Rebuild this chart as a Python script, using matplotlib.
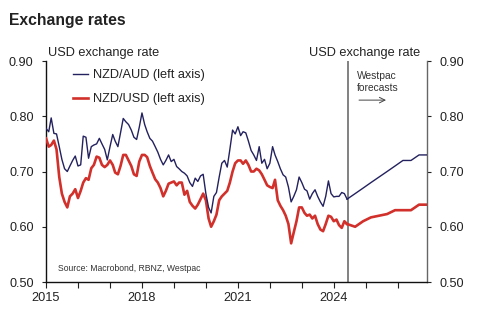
import numpy as np
import pandas as pd
import matplotlib
matplotlib.use("Agg")
import matplotlib.pyplot as plt

plt.rcParams['font.family'] = ['Liberation Sans', 'DejaVu Sans']

# monthly history, Jan 2015 .. Jun 2024
nzd_aud = [0.778, 0.772, 0.797, 0.769, 0.768, 0.745, 0.722, 0.705, 0.700, 0.710,
           0.720, 0.728, 0.710, 0.712, 0.764, 0.762, 0.724, 0.745, 0.748, 0.750,
           0.760, 0.750, 0.740, 0.721, 0.745, 0.767, 0.755, 0.745, 0.770, 0.796,
           0.790, 0.785, 0.775, 0.762, 0.758, 0.780, 0.806, 0.785, 0.772, 0.760,
           0.755, 0.745, 0.735, 0.722, 0.712, 0.720, 0.730, 0.718, 0.722, 0.709,
           0.705, 0.700, 0.697, 0.692, 0.680, 0.673, 0.688, 0.682, 0.692, 0.695,
           0.660, 0.635, 0.625, 0.655, 0.662, 0.690, 0.715, 0.720, 0.708, 0.740,
           0.775, 0.768, 0.781, 0.765, 0.772, 0.770, 0.755, 0.738, 0.730, 0.720,
           0.745, 0.715, 0.722, 0.705, 0.715, 0.745, 0.730, 0.718, 0.705, 0.694,
           0.690, 0.672, 0.645, 0.655, 0.667, 0.690, 0.680, 0.668, 0.665, 0.650,
           0.660, 0.667, 0.655, 0.645, 0.637, 0.655, 0.683, 0.660, 0.654, 0.655,
           0.655, 0.662, 0.660, 0.650]
nzd_usd = [0.760, 0.745, 0.748, 0.756, 0.740, 0.690, 0.660, 0.645, 0.635, 0.655,
           0.660, 0.668, 0.652, 0.665, 0.680, 0.688, 0.685, 0.706, 0.712, 0.727,
           0.725, 0.712, 0.708, 0.712, 0.720, 0.712, 0.698, 0.695, 0.710, 0.730,
           0.730, 0.720, 0.710, 0.695, 0.692, 0.718, 0.730, 0.730, 0.726, 0.710,
           0.698, 0.686, 0.680, 0.670, 0.655, 0.665, 0.678, 0.680, 0.682, 0.675,
           0.680, 0.680, 0.658, 0.665, 0.645, 0.638, 0.633, 0.640, 0.650, 0.660,
           0.648, 0.615, 0.600, 0.610, 0.622, 0.648, 0.655, 0.660, 0.665, 0.680,
           0.700, 0.715, 0.720, 0.720, 0.714, 0.720, 0.712, 0.700, 0.700, 0.705,
           0.702, 0.695, 0.685, 0.675, 0.672, 0.670, 0.685, 0.648, 0.638, 0.630,
           0.620, 0.605, 0.570, 0.590, 0.610, 0.635, 0.635, 0.625, 0.620, 0.622,
           0.615, 0.620, 0.605, 0.595, 0.592, 0.605, 0.620, 0.618, 0.610, 0.613,
           0.603, 0.598, 0.610, 0.605]

# quarterly Westpac forecasts, Jun 2024 .. Dec 2026
fc_aud = [0.65, 0.66, 0.67, 0.68, 0.69, 0.70, 0.71, 0.72, 0.72, 0.73, 0.73]
fc_usd = [0.605, 0.600, 0.610, 0.617, 0.620, 0.623, 0.630, 0.630, 0.630, 0.640, 0.640]

year_ticks = list(range(2015, 2027))
year_labels = ['2015', '', '', '2018', '', '', '2021', '', '', '2024', '', '']
y_ticks = [0.50, 0.60, 0.70, 0.80, 0.90]

navy = '#23215e'
red = '#d1302b'

hist_dates = pd.date_range('2015-01-01', periods=len(nzd_aud), freq='MS')
fc_dates = pd.date_range('2024-06-01', periods=len(fc_aud), freq='3MS')

fig = plt.figure(figsize=(4.86, 3.24), dpi=100)
ax = fig.add_axes([0.0947, 0.1296, 0.7839, 0.6821])

ax.plot(hist_dates, nzd_usd, color=red, lw=1.9, label='NZD/USD (left axis)', zorder=3)
ax.plot(hist_dates, nzd_aud, color=navy, lw=1.0, label='NZD/AUD (left axis)', zorder=4)
ax.plot(fc_dates, fc_usd, color=red, lw=1.9, zorder=3)
ax.plot(fc_dates, fc_aud, color=navy, lw=1.0, zorder=4)

ax.axvline(pd.Timestamp('2024-06-15'), color='#777777', lw=1.3, zorder=2)

ax.set_xlim(pd.Timestamp('2015-01-01'), pd.Timestamp('2026-12-01'))
ax.set_ylim(0.50, 0.90)
ax.set_xticks([pd.Timestamp(f'{y}-01-01') for y in year_ticks])
ax.set_xticklabels(year_labels)
ax.set_yticks(y_ticks)
ax.set_yticklabels([f'{v:.2f}' for v in y_ticks])

ax.spines['top'].set_visible(False)
ax.spines['left'].set_color('#111111')
ax.spines['bottom'].set_color('#111111')
ax.spines['right'].set_color('#666666')
for s in ax.spines.values():
    s.set_linewidth(1.0)

ax.tick_params(axis='y', left=True, right=True, labelleft=True, labelright=True,
               direction='out', length=3, width=0.8, pad=6, labelsize=9.1,
               colors='#222222')
ax.tick_params(axis='x', direction='out', length=4, width=0.8, pad=3.5,
               labelsize=9.2, colors='#222222')

fig.text(0.018, 0.937, 'Exchange rates', fontsize=11.3, fontweight='bold',
         color='#222222', va='center')
fig.text(0.099, 0.836, 'USD exchange rate', fontsize=9.2, color='#222222', va='center')
fig.text(0.750, 0.836, 'USD exchange rate', fontsize=9.2, color='#222222',
         va='center', ha='center')

handles, labels = ax.get_legend_handles_labels()
leg = fig.legend(handles[::-1], labels[::-1], loc='upper left',
                 bbox_to_anchor=(0.150, 0.787), frameon=False, fontsize=9.2,
                 handlelength=1.17, handletextpad=0.4, labelspacing=0.95,
                 borderpad=0, borderaxespad=0)
for line in leg.get_lines():
    line.set_linewidth(1.0 if line.get_color() == navy else 1.9)
for t in leg.get_texts():
    t.set_color('#222222')

fig.text(0.119, 0.17, 'Source: Macrobond, RBNZ, Westpac', fontsize=6.2,
         color='#333333', va='center')

fig.text(0.735, 0.746, 'Westpac\nforecasts', fontsize=7.4, color='#333333',
         va='center', linespacing=1.22)
ax.annotate('', xy=(0.800, 0.691), xytext=(0.733, 0.691),
            xycoords='figure fraction', textcoords='figure fraction',
            arrowprops=dict(arrowstyle='->', color='#444444', lw=0.7))

fig.savefig('out.png', dpi=100)
